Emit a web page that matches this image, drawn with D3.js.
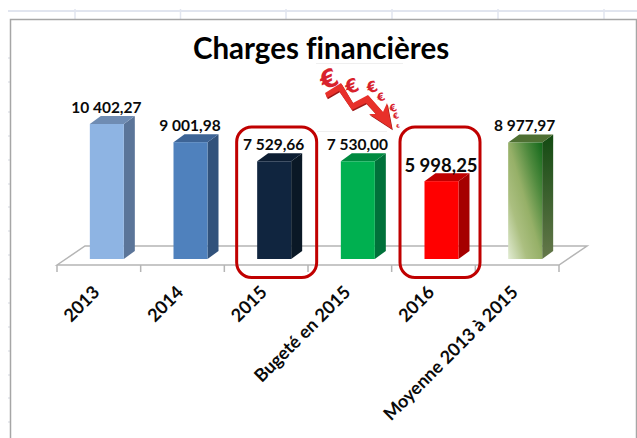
<!DOCTYPE html>
<html><head><meta charset="utf-8">
<script src="https://cdn.jsdelivr.net/npm/d3@7"></script>
<style>html,body{margin:0;padding:0;background:#fff}svg{display:block}text{font-family:Lato,"Open Sans",sans-serif;font-variant-ligatures:none}</style>
</head><body><svg id="c" width="637" height="438"></svg>
<script>
const categories=["2013","2014","2015","Bugeté en 2015","2016","Moyenne 2013 à 2015"];
const values=[10402.27,9001.98,7529.66,7530.00,5998.25,8977.97];
const valueLabels=["10 402,27","9 001,98","7 529,66","7 530,00","5 998,25","8 977,97"];
const frontColors=["#8eb4e3","#4f81bd","#10253f","#00b050","#ff0000","url(#gFront)"];
const sideColors=["#5b7599","#31527b","#0a1826","#00713a","#a50000","url(#gSide)"];
const topColors=["#6f8cb3","#3d6496","#0d1e33","#008a40","#c00000","#4f7033"];
const highlighted=["2015","2016"];
const highlightOffsets=[10.5,6.5];

const svg=d3.select("#c");
const defs=svg.append("defs");
const gf=defs.append("linearGradient").attr("id","gFront").attr("x1",0).attr("y1",1).attr("x2",1).attr("y2",0);
[[0,"#e2ecd4"],[.28,"#abbf80"],[.5,"#96b068"],[.75,"#4f8a3e"],[1,"#12681a"]].forEach(s=>gf.append("stop").attr("offset",s[0]).attr("stop-color",s[1]));
const gs=defs.append("linearGradient").attr("id","gSide").attr("x1",0).attr("y1",1).attr("x2",0).attr("y2",0);
[[0,"#65784a"],[1,"#134a12"]].forEach(s=>gs.append("stop").attr("offset",s[0]).attr("stop-color",s[1]));

// sheet behind the chart
const sheet=svg.append("g").attr("fill","none").attr("stroke","#e1e5ef");
sheet.append("line").attr("x1",8).attr("x2",637).attr("y1",11).attr("y2",11).attr("stroke-width",2);
[75,180.5,286,392,498,604].forEach(x=>sheet.append("line").attr("x1",x).attr("x2",x).attr("y1",9).attr("y2",19).attr("stroke-width",1.5));
[58,82,112,136,160,184,207,231,255,279,303,327,351,375,398,422].forEach(y=>sheet.append("line").attr("x1",8).attr("x2",10).attr("y1",y).attr("y2",y).attr("stroke","#d5d8e0"));
svg.append("path").attr("d","M10.5,438V19.5H636.5V438").attr("fill","none").attr("stroke","#a6a6a6").attr("stroke-width",1.5);
[[316,403,63.5],[317,387,131.5]].forEach(l=>svg.append("line").attr("x1",l[0]).attr("x2",l[1]).attr("y1",l[2]).attr("y2",l[2]).attr("stroke","#efefef"));

const x=d3.scaleBand().domain(categories).range([57,559]);
const y=d3.scaleLinear().domain([0,10402.27]).range([259,124]);
const dx=11,dy=8,bw=34,shift=8;

// floor
const floor=svg.append("g").attr("fill","none").attr("stroke","#b5b5b5").attr("stroke-width",1.5);
floor.append("path").attr("d",`M57,265L85,246H587L559,265Z`);
const xAxis=svg.append("g").attr("transform","translate(0,265)").call(d3.axisBottom(x).tickSize(0).tickFormat(""));
xAxis.select(".domain").remove();
const edges=categories.map(c=>x(c)).concat([x.range()[1]]);
floor.selectAll("line.t").data(edges).join("line").attr("class","t").attr("x1",d=>d).attr("x2",d=>d).attr("y1",265).attr("y2",272);

// bars
const bars=svg.append("g").selectAll("g").data(categories).join("g");
bars.each(function(c,i){
  const g=d3.select(this);
  const x0=x(c)+x.bandwidth()/2+shift-bw/2,x1=x0+bw,t=y(values[i]),b=y(0);
  g.append("path").attr("d",`M${x1},${b}L${x1+dx},${b-dy}V${t-dy}L${x1},${t}Z`).attr("fill",sideColors[i]);
  g.append("path").attr("d",`M${x0},${t}L${x0+dx},${t-dy}H${x1+dx}L${x1},${t}Z`).attr("fill",topColors[i]);
  g.append("rect").attr("x",x0).attr("y",t).attr("width",bw).attr("height",b-t).attr("fill",frontColors[i]);
  const big=c==="2016";
  g.append("text").attr("x",x0+bw/2-0.5).attr("y",big?t-9:t-11)
    .attr("text-anchor","middle").attr("font-weight",700).attr("font-size",big?18.5:15.5).attr("fill","#0a0a0a").text(valueLabels[i]);
  const ax=x(c)+x.bandwidth()/2-7,ay=284.5;
  svg.append("text").attr("transform",`translate(${ax},${ay}) rotate(-45)`).attr("text-anchor","end").attr("font-weight",700)
    .attr("font-size",18).attr("dy","0.7em").attr("fill","#0a0a0a").text(c);
});

// highlight boxes
highlighted.forEach((c,i)=>{
  const cx=x(c)+x.bandwidth()/2+highlightOffsets[i];
  svg.append("rect").attr("x",cx-40).attr("y",127).attr("width",80).attr("height",150.5).attr("rx",15)
    .attr("fill","none").attr("stroke","#c00000").attr("stroke-width",3);
});

// title
svg.append("text").attr("x",321).attr("y",59).attr("text-anchor","middle").attr("font-size",29.5).attr("font-weight",700).attr("fill","#000").text("Charges financières");

// falling euro arrow
const ar=svg.append("g");
[["€",329,79,25,-25],["€",352,86,19,-20],["€",372,87,15,-20],["€",381,97,11,-20],["€",393,108,10,-20],["€",396,116,8,-20],["€",398,126,5,-20]].forEach(d=>{
  ar.append("text").attr("transform",`translate(${d[1]},${d[2]}) rotate(${d[4]})`).attr("text-anchor","middle").attr("dy","0.35em").attr("font-size",d[3]).attr("font-weight",700).style("font-family","'DejaVu Sans'").attr("fill","#d8222c").text(d[0]);
});
const arrow="M325,93L341,83L353,103L368,95L383,112L387,103L392,129L369,114L376,114L366,103L352,110L339,91L327,98Z";
ar.append("path").attr("d",arrow).attr("transform","translate(0.8,1.2)").attr("fill","#9c1616");
ar.append("path").attr("d",arrow).attr("fill","#e8302a");
</script></body></html>
